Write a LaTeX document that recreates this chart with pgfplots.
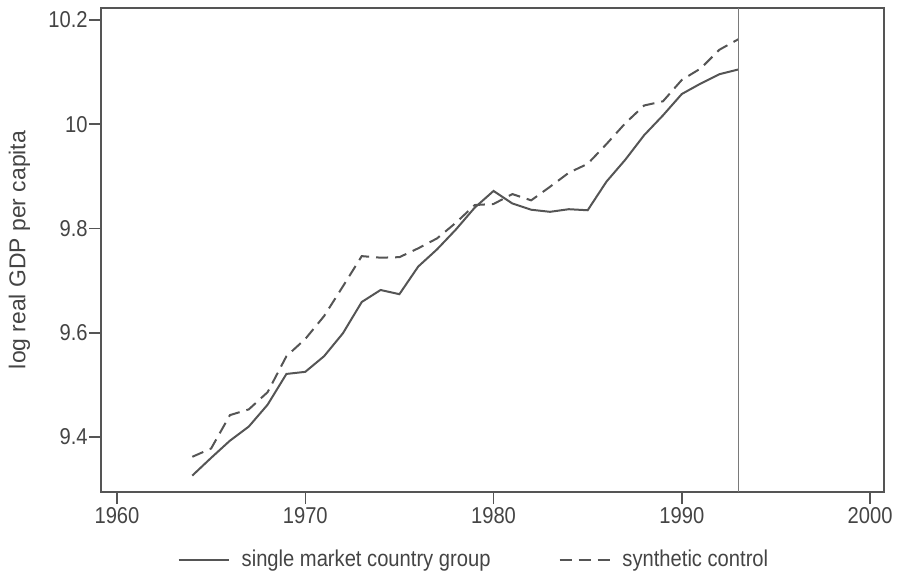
\documentclass[border=0pt]{standalone}
\usepackage{fontspec}
\setmainfont{Liberation Sans}
\newfontfamily\narrowfont{Liberation Sans}[FakeStretch=0.88]
\usepackage{pgfplots}
\pgfplotsset{compat=1.18}
\definecolor{txt}{HTML}{444444}
\definecolor{ln}{HTML}{555555}
\definecolor{vl}{HTML}{7A7A7A}
\begin{document}
\begin{tikzpicture}
\useasboundingbox (-50.5bp,-40.5bp) rectangle (399.5bp,246bp);
\begin{axis}[
  at={(0,0)}, anchor=south west,
  scale only axis, width=391.5bp, height=242bp,
  xmin=1959.15, xmax=2000.74, ymin=9.2945, ymax=10.223,
  xtick={1960,1970,1980,1990,2000},
  ytick={9.4,9.6,9.8,10,10.2},
  xtick pos=lower, ytick pos=left,
  tick align=outside, major tick length=6bp,
  axis line style={ln, line width=0.75bp},
  every tick/.style={ln, line width=0.75bp},
  /pgf/number format/assume math mode=true,
  /pgf/number format/1000 sep={},
  tick label style={font=\narrowfont\fontsize{11.5}{13}\selectfont, text=txt},
  yticklabel style={inner sep=0.5bp},
  xticklabel style={inner sep=1.5bp},
  ylabel={log real GDP per capita},
  every axis y label/.style={at={(axis description cs:-0.104,0.5)}, rotate=90, anchor=center, font=\fontsize{11.5}{13}\selectfont, text=txt},
  legend columns=2,
  legend style={draw=none, fill=none, at={(axis description cs:0.4776,-0.1405)}, anchor=center,
    font=\narrowfont\fontsize{11.5}{13}\selectfont, text=txt,
    /tikz/every odd column/.append style={column sep=4bp},
    /tikz/every even column/.append style={column sep=32bp}},
  legend image code/.code={\draw[#1] (0bp,0bp) -- (25bp,0bp);},
]
\addplot[ln, line width=1bp, solid] coordinates {
(1964,9.326) (1965,9.360) (1966,9.393) (1967,9.420) (1968,9.462)
(1969,9.521) (1970,9.525) (1971,9.555) (1972,9.599) (1973,9.659)
(1974,9.682) (1975,9.674) (1976,9.727) (1977,9.760) (1978,9.798)
(1979,9.840) (1980,9.872) (1981,9.848) (1982,9.836) (1983,9.832)
(1984,9.837) (1985,9.835) (1986,9.890) (1987,9.932) (1988,9.979)
(1989,10.017) (1990,10.058) (1991,10.078) (1992,10.096) (1993,10.105)
};
\addlegendentry{single market country group}
\addplot[ln, line width=1bp, dash pattern=on 6bp off 3.5bp] coordinates {
(1964,9.362) (1965,9.378) (1966,9.442) (1967,9.453) (1968,9.486)
(1969,9.555) (1970,9.588) (1971,9.632) (1972,9.689) (1973,9.747)
(1974,9.744) (1975,9.745) (1976,9.762) (1977,9.781) (1978,9.811)
(1979,9.845) (1980,9.847) (1981,9.866) (1982,9.854) (1983,9.880)
(1984,9.907) (1985,9.924) (1986,9.962) (1987,10.002) (1988,10.036)
(1989,10.044) (1990,10.085) (1991,10.107) (1992,10.143) (1993,10.163)
};
\addlegendentry{synthetic control}
\draw[vl, line width=0.75bp] (axis cs:1993,9.2945) -- (axis cs:1993,10.223);
\end{axis}
\end{tikzpicture}
\end{document}
